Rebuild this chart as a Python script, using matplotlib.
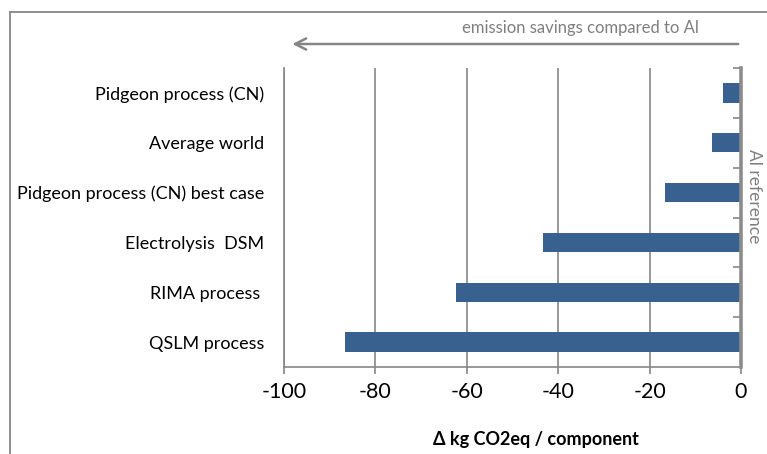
import matplotlib
matplotlib.use("Agg")
import matplotlib.pyplot as plt
from matplotlib.lines import Line2D

categories = ["Pidgeon process (CN)", "Average world", "Pidgeon process (CN) best case",
              "Electrolysis  DSM", "RIMA process ", "QSLM process"]
values = [-4.0, -6.3, -16.6, -43.3, -62.4, -86.6]
xticks = [-100, -80, -60, -40, -20, 0]
xlabel = "\u0394 kg CO2eq / component"
arrow_text = "emission savings compared to Al"
ref_text = "Al reference"

plt.rcParams['font.family'] = ['Lato', 'DejaVu Sans']
GRAY = "#868686"
BLUE = "#38618f"

fig = plt.figure(figsize=(7.67, 4.54), dpi=100)
ax = fig.add_axes([284/767, 1-367/454, (741-284)/767, (367-68)/454])

n = len(categories)
ypos = list(range(n))
ax.barh(ypos, values, height=0.39, color=BLUE, zorder=3)
ax.set_ylim(n - 0.5, -0.5)
ax.set_xlim(-100, 0)
ax.set_xticks(xticks)
ax.set_xticklabels([str(v) for v in xticks], fontsize=15.5)
ax.set_yticks(ypos)
ax.set_yticklabels(categories, fontsize=13)
ax.set_yticks([i - 0.5 for i in range(n)], minor=True)
ax.tick_params(axis='y', which='major', left=False, right=False, pad=10.5)
ax.tick_params(axis='y', which='minor', left=False, right=True, direction='in',
               length=6, width=1.2, color=GRAY)
ax.tick_params(axis='x', which='major', direction='out', length=5, width=1.2,
               color=GRAY, pad=6)
ax.xaxis.grid(True, color=GRAY, linewidth=1.2, zorder=0)
ax.set_axisbelow(True)
for side in ['left', 'bottom']:
    ax.spines[side].set_color(GRAY)
    ax.spines[side].set_linewidth(1.2)
ax.spines['top'].set_visible(False)
ax.spines['right'].set_color("#8c8c8c")
ax.spines['right'].set_linewidth(2.6)
ax.spines['right'].set_zorder(5)

fig.text(536/767, 1-440/454, xlabel, ha='center', va='center', fontsize=13,
         fontweight='bold')

# arrow above chart
ax.annotate("", xy=(-98.8, 1.0 + (68-44)/299), xytext=(0, 1.0 + (68-44)/299),
            xycoords=('data', 'axes fraction'), textcoords=('data', 'axes fraction'),
            arrowprops=dict(arrowstyle='->,head_length=0.8,head_width=0.4',
                            color=GRAY, lw=1.8), annotation_clip=False)
fig.text(580/767, 1-28/454, arrow_text, ha='center', va='center', fontsize=12,
         color="#7f7f7f")
fig.text(754/767, 1-196/454, ref_text, ha='center', va='center', fontsize=12.5,
         color="#7f7f7f", rotation=270)

# outer frame
fig.add_artist(Line2D([10/767, 10/767], [0, 1-12/454], transform=fig.transFigure,
                      color=GRAY, lw=1.3))
fig.add_artist(Line2D([10/767, 1], [1-12/454, 1-12/454], transform=fig.transFigure,
                      color=GRAY, lw=1.3))

fig.savefig("out.png", dpi=100)
